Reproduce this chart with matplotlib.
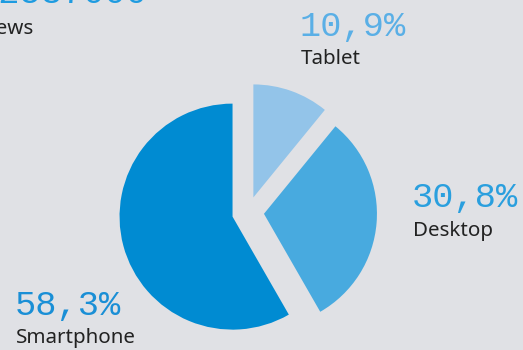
import matplotlib.pyplot as plt

# share of page views per device
devices = ["Tablet", "Desktop", "Smartphone"]
shares = [10.9, 30.8, 58.3]
share_labels = ["10,9%", "30,8%", "58,3%"]

total_views = "12537000"
total_label = "Views"

wedge_colors = ["#93c4e9", "#48aadf", "#008bd2"]
text_colors = ["#5aafe6", "#2a9fde", "#1a8fd6"]
bg = "#e0e1e5"
W, H = 523, 350

fig = plt.figure(figsize=(W / 100, H / 100), dpi=100)
fig.patch.set_facecolor(bg)
ax = fig.add_axes([0, 0, 1, 1])
ax.set_facecolor(bg)

# explode is in data units (pixels here), not a fraction of the radius
ax.pie(shares, colors=wedge_colors, startangle=90, counterclock=False,
       center=(248, H - 212.5), radius=113, explode=[16] * 3,
       wedgeprops=dict(linewidth=0), frame=True)
ax.set_xlim(0, W)
ax.set_ylim(0, H)
ax.set_aspect("equal")
ax.axis("off")


def put(x, y, s, **kw):
    # x, y given from the top-left corner
    ax.text(x, H - y, s, va="baseline", **kw)


mono = dict(family="Liberation Mono", fontsize=25.5)
sans = dict(family="Noto Sans", fontsize=14.8, color="#222222")

# label anchors: (percent, name) rows
spots = [(300, 36, 301, 64), (412, 207, 413, 236), (15, 315, 16, 343)]
for (px, py, nx_, ny), pct, name, c in zip(spots, share_labels, devices,
                                           text_colors):
    put(px, py, pct, color=c, **mono)
    put(nx_, ny, name, **sans)

# headline total, running off the top edge
put(148, 3, total_views, ha="right", color="#1e9be0", **mono)
put(33, 34, total_label, ha="right", **sans)

fig.savefig("out.png", dpi=100, facecolor=bg)
